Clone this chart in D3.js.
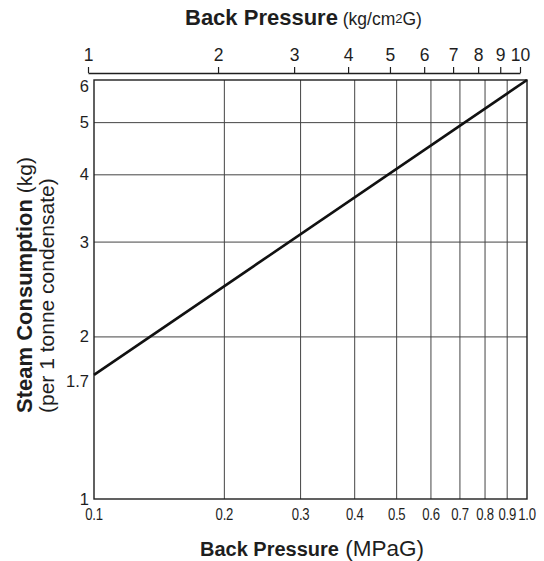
<!DOCTYPE html>
<html><head><meta charset="utf-8">
<script src="https://cdn.jsdelivr.net/npm/d3@7"></script>
<style>
body{margin:0;background:#fff;}
svg{font-family:"Liberation Sans",Arial,Helvetica,sans-serif;}
</style></head><body>
<svg id="c" width="544" height="561"></svg>
<script>
const xTicksMPa = [0.1,0.2,0.3,0.4,0.5,0.6,0.7,0.8,0.9,1.0];
const xTickLabels = ["0.1","0.2","0.3","0.4","0.5","0.6","0.7","0.8","0.9","1.0"];
const topTicks = [1,2,3,4,5,6,7,8,9,10];
const yGrid = [2,3,4,5];
const yTickLabels = [1,1.7,2,3,4,5,6];
const linePressure = [0.1, 1.0];
const lineSteam = [1.7, 6];

const svg = d3.select("#c");
const L=94,R=527,T=80,B=499;
const x = d3.scaleLog().domain([0.1,1]).range([L,R]);
const y = d3.scaleLog().domain([1,6]).range([B,T]);
const xt = d3.scaleLog().domain([1,10]).range([88,520]);
const ink="#1e1e1e";

// grid
svg.append("g").selectAll("line").data(xTicksMPa.slice(1,-1)).join("line")
 .attr("x1",d=>x(d)).attr("x2",d=>x(d)).attr("y1",T).attr("y2",B)
 .attr("stroke","#444").attr("stroke-width",1);
svg.append("g").selectAll("line").data(yGrid).join("line")
 .attr("y1",d=>y(d)).attr("y2",d=>y(d)).attr("x1",L).attr("x2",R)
 .attr("stroke","#444").attr("stroke-width",1);
// frame
svg.append("rect").attr("x",L).attr("y",T).attr("width",R-L).attr("height",B-T)
 .attr("fill","none").attr("stroke",ink).attr("stroke-width",1.4);

// data line
const pts = linePressure.map((p,i)=>[p,lineSteam[i]]);
svg.append("path").datum(pts)
 .attr("d",d3.line().x(d=>x(d[0])).y(d=>y(d[1])))
 .attr("stroke","#111").attr("stroke-width",2.6).attr("fill","none");

// bottom labels (narrow figures)
svg.append("g").selectAll("text").data(xTicksMPa).join("text")
 .attr("transform",d=>`translate(${x(d)},${B+21}) scale(0.82,1)`).attr("text-anchor","middle")
 .attr("font-size",16).attr("letter-spacing",-0.3).attr("fill",ink)
 .text((d,i)=>xTickLabels[i]);

// y labels (top and 1.7 labels sit slightly below their value)
const yNudge = {6:6, 1.7:7};
svg.append("g").selectAll("text").data(yTickLabels).join("text")
 .attr("x",L-5).attr("y",d=>y(d)+5.5+(yNudge[d]||0)).attr("text-anchor","end")
 .attr("font-size",16.5).attr("fill",ink).text(d=>d);

// top axis
const ta = d3.axisTop(xt).tickValues(topTicks).tickSize(6).tickSizeOuter(0).tickFormat(d3.format("d"));
const g = svg.append("g").attr("transform","translate(0,73)").call(ta);
g.select(".domain").attr("stroke",ink).attr("stroke-width",1.4);
g.selectAll(".tick line").attr("stroke",ink).attr("stroke-width",1.2);
g.selectAll(".tick text").attr("font-size",17.5).attr("fill",ink)
 .attr("font-family","Liberation Sans,Arial,sans-serif").attr("dy","-0.15em");

// titles
const tt = svg.append("text").attr("x",185).attr("y",25).attr("fill",ink).attr("font-size",22);
tt.append("tspan").attr("font-weight","bold").text("Back Pressure");
tt.append("tspan").attr("font-size",17.5).text(" (kg/cm");
tt.append("tspan").attr("font-size",13).attr("dy",-2).text("2");
tt.append("tspan").attr("font-size",17.5).attr("dy",2).text("G)");

const bt = svg.append("text").attr("x",200).attr("y",556).attr("fill",ink).attr("font-size",20);
bt.append("tspan").attr("font-weight","bold").text("Back Pressure");
bt.append("tspan").attr("font-size",22.5).text(" (MPaG)");

const yl = svg.append("text").attr("transform","translate(32,413) rotate(-90)").attr("fill",ink).attr("font-size",22);
yl.append("tspan").attr("font-weight","bold").text("Steam Consumption");
yl.append("tspan").attr("font-size",21).text(" (kg)");
svg.append("text").attr("transform","translate(54,413) rotate(-90)").attr("fill",ink).attr("font-size",21)
 .text("(per 1 tonne condensate)");
</script></body></html>
